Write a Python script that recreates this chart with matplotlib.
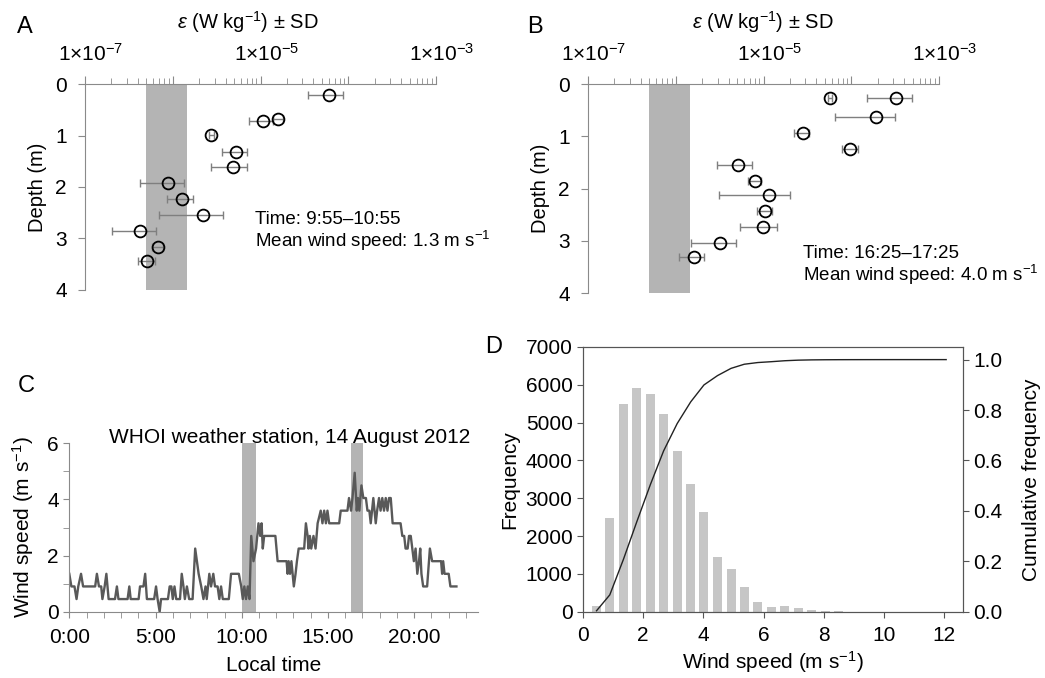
import matplotlib
matplotlib.use("Agg")
import matplotlib.pyplot as plt
import matplotlib.transforms as mtransforms
import numpy as np
from matplotlib.ticker import FixedLocator, LogLocator, NullFormatter, FixedFormatter, MultipleLocator

plt.rcParams["font.family"] = ["Liberation Sans", "DejaVu Sans"]
plt.rcParams["mathtext.fontset"] = "custom"
plt.rcParams["mathtext.rm"] = "Liberation Sans"
plt.rcParams["mathtext.it"] = "Liberation Sans:italic"
plt.rcParams["mathtext.default"] = "regular"

W, H = 1045, 678

# --- panel A: dissipation profile, morning
a_depth = [0.21, 0.71, 0.67, 0.99, 1.33, 1.62, 1.93, 2.24, 2.54, 2.85, 3.16, 3.44]
a_eps = [6.1e-5, 1.06e-5, 1.6e-5, 2.76e-6, 5.3e-6, 4.9e-6, 8.9e-7, 1.29e-6, 2.2e-6, 4.25e-7, 6.8e-7, 5.15e-7]
a_sd = [2.65e-5, 3.2e-6, 2.0e-6, 2.0e-7, 1.7e-6, 2.2e-6, 4.7e-7, 4.2e-7, 1.5e-6, 2.2e-7, 1.0e-7, 1.1e-7]

# --- panel B: dissipation profile, afternoon
b_depth = [0.27, 0.27, 0.64, 0.94, 1.24, 1.55, 1.85, 2.13, 2.43, 2.73, 3.04, 3.32]
b_eps = [5.7e-5, 3.2e-4, 1.92e-4, 2.79e-5, 9.8e-5, 5.15e-6, 8.0e-6, 1.17e-5, 1.04e-5, 9.9e-6, 3.2e-6, 1.6e-6]
b_sd = [3.0e-6, 1.68e-4, 1.26e-4, 5.5e-6, 2.0e-5, 2.2e-6, 1.3e-6, 8.6e-6, 2.0e-6, 4.5e-6, 1.7e-6, 5.2e-7]

noise_band = (5.0e-7, 1.45e-6)

# --- panel C: wind speed time series (hours, m/s)
c_hour = [0.00, 0.12, 0.30, 0.42, 0.52, 0.68, 0.80, 1.50, 1.60, 1.72, 1.85, 1.92, 2.05, 2.15, 2.28,
          2.65, 2.76, 2.85, 3.38, 3.48, 3.56, 4.02, 4.10, 4.30, 4.40, 4.50, 4.92, 5.03, 5.12, 5.24,
          5.32, 5.72, 5.82, 5.92, 6.00, 6.10, 6.20, 6.42, 6.52, 6.62, 6.70, 6.82, 6.95, 7.15, 7.30,
          7.50, 7.65, 7.78, 7.90, 7.97, 8.12, 8.22, 8.35, 8.45, 8.60, 8.70, 8.80, 8.90, 9.25, 9.38,
          9.83, 9.97, 10.06, 10.15, 10.25, 10.35, 10.45, 10.55, 10.68, 10.83, 10.97, 11.07, 11.15, 11.22, 11.30,
          11.95, 12.08, 12.60, 12.66, 12.72, 12.80, 12.88, 12.95, 13.02, 13.12, 13.20, 13.30, 13.62, 13.72, 13.82,
          13.87, 13.95, 14.03, 14.16, 14.28, 14.40, 14.58, 14.68, 14.78, 14.88, 14.97, 15.07, 15.65, 15.74, 16.13,
          16.22, 16.34, 16.42, 16.55, 16.67, 16.74, 16.82, 16.94, 17.05, 17.20, 17.29, 17.40, 17.48, 17.63, 17.77,
          17.85, 17.96, 18.05, 18.15, 18.25, 18.35, 18.45, 18.54, 18.64, 18.75, 19.21, 19.31, 19.42, 19.50, 19.62,
          19.70, 19.80, 19.89, 19.98, 20.08, 20.18, 20.28, 20.35, 20.42, 20.52, 20.75, 20.91, 21.04, 21.56, 21.62,
          21.68, 21.76, 22.00, 22.10, 22.45]
c_speed = [1.35, 0.90, 0.90, 0.45, 0.90, 1.35, 0.90, 0.90, 1.35, 0.90, 0.90, 0.45, 0.90, 1.35, 0.45,
           0.45, 0.90, 0.45, 0.45, 0.90, 0.45, 0.45, 0.90, 0.90, 1.35, 0.45, 0.45, 0.90, 0.45, 0.00,
           0.45, 0.45, 0.90, 0.90, 0.45, 0.90, 0.45, 0.45, 1.35, 0.90, 0.45, 0.90, 0.45, 0.45, 2.25,
           1.35, 0.90, 0.45, 0.90, 0.45, 1.35, 0.90, 1.35, 0.90, 0.90, 0.45, 0.90, 0.45, 0.45, 1.35,
           1.35, 0.90, 0.45, 0.90, 0.45, 0.90, 0.45, 2.70, 1.80, 2.25, 3.15, 2.70, 3.15, 2.25, 2.70,
           2.70, 1.80, 1.80, 1.35, 1.80, 1.35, 1.80, 1.35, 0.90, 1.35, 1.80, 2.25, 2.25, 3.15, 2.70,
           2.25, 2.70, 2.25, 2.70, 2.25, 3.15, 3.60, 3.15, 3.60, 3.15, 3.60, 3.15, 3.15, 3.60, 3.60,
           4.05, 3.60, 4.05, 4.95, 3.60, 4.05, 3.60, 4.50, 4.05, 4.05, 3.60, 3.60, 3.15, 4.05, 3.15,
           3.60, 4.05, 3.60, 4.05, 3.60, 4.05, 3.60, 4.05, 4.05, 3.15, 3.15, 2.70, 2.70, 2.25, 2.25,
           2.70, 2.70, 2.25, 1.80, 2.25, 1.35, 1.80, 2.25, 1.35, 0.90, 0.90, 2.25, 1.80, 1.80, 1.35,
           1.80, 1.35, 1.35, 0.90, 0.90]
profile_windows = [(10.0, 10.8), (16.35, 17.05)]

# --- panel D: wind speed histogram
d_bins = [0.45, 0.89, 1.34, 1.79, 2.24, 2.68, 3.13, 3.58, 4.02, 4.47, 4.92, 5.36, 5.81, 6.26,
          6.71, 7.15, 7.60, 8.05, 8.50, 8.94, 9.39, 9.84, 10.28, 10.73, 11.18, 11.62, 12.07]
d_counts = [150, 2465, 5484, 5924, 5766, 5238, 4243, 3380, 2632, 1452, 1127, 643, 264, 132,
            150, 88, 44, 20, 10, 5, 3, 2, 1, 1, 0, 0, 1]

SPINE = "#8a8a8a"
BAND = "#b4b4b4"
TICK_FS = 15
LABEL_FS = 15


def fig_rect(left, top, right, bottom):
    return [left / W, 1 - bottom / H, (right - left) / W, (bottom - top) / H]


def profile_panel(ax, depth, eps, sd):
    ax.axvspan(*noise_band, color=BAND, lw=0, zorder=0)
    ax.errorbar(eps, depth, xerr=sd, fmt="none", ecolor="#7f7f7f", elinewidth=1.0,
                capsize=3, capthick=1.0, zorder=2)
    ax.plot(eps, depth, "o", ms=8.5, mfc="none", mec="black", mew=1.3, zorder=3)
    ax.set_xscale("log")
    ax.set_xlim(1e-7, 1e-3)
    ax.set_ylim(4, 0)
    ax.xaxis.tick_top()
    ax.xaxis.set_major_locator(FixedLocator([1e-7, 1e-6, 1e-5, 1e-4, 1e-3]))
    ax.xaxis.set_major_formatter(FixedFormatter(
        ["1×10$^{-7}$", "", "1×10$^{-5}$", "", "1×10$^{-3}$"]))
    ax.xaxis.set_minor_locator(LogLocator(base=10, subs=np.arange(2, 10), numticks=20))
    ax.xaxis.set_minor_formatter(NullFormatter())
    ax.set_yticks([0, 1, 2, 3, 4])
    for side in ("right", "bottom"):
        ax.spines[side].set_visible(False)
    for side in ("top", "left"):
        ax.spines[side].set_color(SPINE)
    ax.tick_params(axis="x", which="major", direction="out", length=6, color=SPINE,
                   labelsize=TICK_FS, pad=8)
    ax.tick_params(axis="x", which="minor", direction="out", length=4, color=SPINE)
    ax.tick_params(axis="y", direction="out", length=5, color=SPINE, labelsize=TICK_FS, pad=8)
    shift = mtransforms.ScaledTranslation(6 / 100, 0, ax.figure.dpi_scale_trans)
    for lab in ax.get_xticklabels():
        lab.set_transform(lab.get_transform() + shift)
    ax.set_ylabel("Depth (m)", fontsize=14.5, labelpad=6)


fig = plt.figure(figsize=(W / 100, H / 100), dpi=100)

ax_a = fig.add_axes(fig_rect(85, 84, 436, 290))
profile_panel(ax_a, a_depth, a_eps, a_sd)
ax_b = fig.add_axes(fig_rect(588, 84, 939, 293))
profile_panel(ax_b, b_depth, b_eps, b_sd)

title = "$\\it{ε}$ (W kg$^{-1}$) ± SD"
fig.text(248 / W, 1 - 22 / H, title, ha="center", va="center", fontsize=14.5)
fig.text(763 / W, 1 - 22 / H, title, ha="center", va="center", fontsize=14.5)
fig.text(25 / W, 1 - 27 / H, "A", ha="center", va="center", fontsize=17)
fig.text(535 / W, 1 - 27 / H, "B", ha="center", va="center", fontsize=17)

fig.text(255 / W, 1 - 232 / H, "Time: 9:55–10:55\nMean wind speed: 1.3 m s$^{-1}$",
         ha="left", va="center", fontsize=13.5, linespacing=1.0)
fig.text(803 / W, 1 - 266 / H, "Time: 16:25–17:25\nMean wind speed: 4.0 m s$^{-1}$",
         ha="left", va="center", fontsize=13.5, linespacing=1.05)

# --- panel C
ax_c = fig.add_axes(fig_rect(69.3, 443.3, 478, 611.7))
for t0, t1 in profile_windows:
    ax_c.axvspan(t0, t1, color=BAND, lw=0, zorder=0)
ax_c.plot(c_hour, c_speed, color="#595959", lw=1.7, zorder=2)
ax_c.set_xlim(0, 23.7)
ax_c.set_ylim(0, 6)
ax_c.set_xticks([0, 5, 10, 15, 20])
ax_c.set_xticklabels(["0:00", "5:00", "10:00", "15:00", "20:00"])
ax_c.xaxis.set_minor_locator(MultipleLocator(1))
ax_c.set_yticks([0, 2, 4, 6])
ax_c.yaxis.set_minor_locator(MultipleLocator(1))
for side in ("right", "top"):
    ax_c.spines[side].set_visible(False)
for side in ("left", "bottom"):
    ax_c.spines[side].set_color(SPINE)
ax_c.tick_params(which="both", direction="out", length=4, color=SPINE, labelsize=TICK_FS)
ax_c.tick_params(axis="x", pad=8)
ax_c.set_xlabel("Local time", fontsize=LABEL_FS, labelpad=6)
ax_c.set_ylabel("Wind speed (m s$^{-1}$)", fontsize=LABEL_FS, labelpad=8)
ax_c.text(0.54, 1.035, "WHOI weather station, 14 August 2012", transform=ax_c.transAxes,
          ha="center", va="center", fontsize=LABEL_FS)
fig.text(26 / W, 1 - 386 / H, "C", ha="center", va="center", fontsize=17)

# --- panel D
ax_d = fig.add_axes(fig_rect(583, 347, 963, 611.7))
ax_d.bar(d_bins, d_counts, width=0.3, color="#c6c6c6", lw=0, zorder=1)
ax_d.set_xlim(0, 12.63)
ax_d.set_ylim(0, 7000)
ax_d.set_xticks(range(0, 13, 2))
ax_d.set_yticks(range(0, 7001, 1000))
ax_d.tick_params(direction="out", length=4, color="#555555", labelsize=TICK_FS)
ax_d.tick_params(axis="x", pad=6)
for sp in ax_d.spines.values():
    sp.set_color("#555555")
ax_d.set_xlabel("Wind speed (m s$^{-1}$)", fontsize=LABEL_FS, labelpad=3)
ax_d.set_ylabel("Frequency", fontsize=LABEL_FS, labelpad=5)

cum = np.cumsum(d_counts) / np.sum(d_counts)
ax_r = ax_d.twinx()
ax_r.plot(d_bins, cum, color="#222222", lw=1.0, zorder=3)
ax_r.set_ylim(0, 1.05)
ax_r.set_yticks([0, 0.2, 0.4, 0.6, 0.8, 1.0])
ax_r.set_yticklabels(["0.0", "0.2", "0.4", "0.6", "0.8", "1.0"])
ax_r.tick_params(direction="out", length=4, color="#555555", labelsize=TICK_FS)
for sp in ax_r.spines.values():
    sp.set_color("#555555")
ax_r.set_ylabel("Cumulative frequency", fontsize=LABEL_FS, labelpad=14)
fig.text(494 / W, 1 - 347 / H, "D", ha="center", va="center", fontsize=17)

fig.savefig("out.png", dpi=100)
